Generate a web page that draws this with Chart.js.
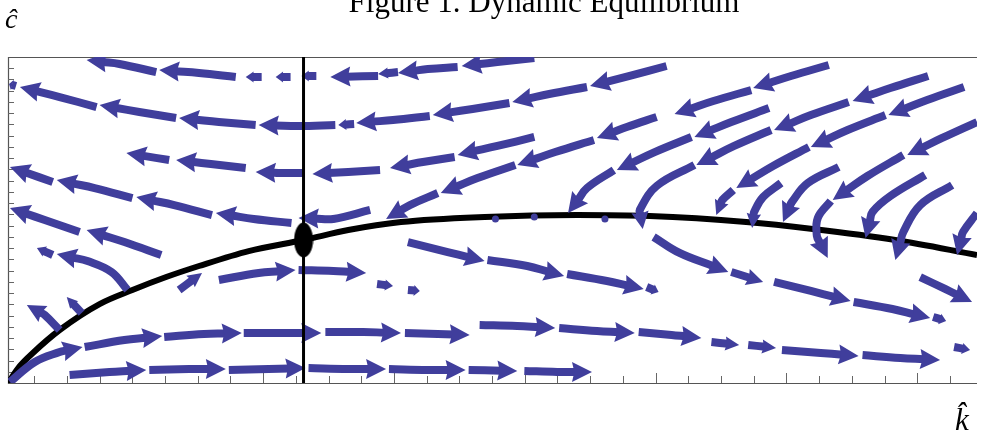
<!DOCTYPE html>
<html>
<head>
<meta charset="utf-8">
<script src="https://cdn.jsdelivr.net/npm/chart.js@4.4.0/dist/chart.umd.min.js"></script>
<style>
  html, body { margin: 0; padding: 0; background: #fff; }
  #wrap { width: 982px; height: 435px; }
</style>
</head>
<body>
<div id="wrap"><canvas id="phaseChart" width="982" height="435"></canvas></div>
<script>
// axis ranges (k-hat horizontally, c-hat vertically)
const kRange = [0.05, 7.457];
const cRange = [0, 2.898];

const kMajorTicks = [1, 2, 3, 4, 5, 6, 7];
const kMinorTicks = [0.25, 0.5, 0.75, 1.25, 1.5, 1.75, 2.25, 2.5, 2.75, 3.25, 3.5, 3.75,
  4.25, 4.5, 4.75, 5.25, 5.5, 5.75, 6.25, 6.5, 6.75, 7.25];
const cTicks = [0.1, 0.2, 0.3, 0.4, 0.5, 0.6, 0.7, 0.8, 0.9, 1.0, 1.1, 1.2, 1.3, 1.4,
  1.5, 1.6, 1.7, 1.8, 1.9, 2.0, 2.1, 2.2, 2.3, 2.4, 2.5, 2.6, 2.7, 2.8];

// c-dot = 0 locus
const curveK = [0.05, 0.141, 0.240, 0.445, 0.750, 1.001, 1.259, 1.510, 1.890, 2.309,
  2.651, 3.054, 3.693, 4.400, 4.955, 5.692, 6.202, 6.833, 7.457];
const curveC = [0, 0.151, 0.267, 0.471, 0.702, 0.827, 0.942, 1.040, 1.173, 1.271,
  1.360, 1.431, 1.476, 1.493, 1.484, 1.431, 1.369, 1.271, 1.138];

// steady state (k-dot = 0 line and equilibrium)
const kStar = 2.309;
const cStar = 1.271;

// stream segments: [k, c] from tail to arrow tip
const streams = [
  [[1.183,2.764],[0.902,2.836],[0.651,2.871]],
  [[1.791,2.720],[1.510,2.756],[1.206,2.782]],
  [[1.989,2.720],[1.867,2.720]],
  [[2.210,2.720],[2.096,2.720]],
  [[2.407,2.729],[2.293,2.729]],
  [[2.879,2.729],[2.514,2.720]],
  [[3.031,2.764],[2.879,2.747]],
  [[3.487,2.809],[3.259,2.791],[3.031,2.756]],
  [[4.073,2.889],[3.791,2.853],[3.518,2.818]],
  [[0.111,2.640],[0.058,2.658]],
  [[0.727,2.453],[0.445,2.542],[0.141,2.631]],
  [[1.335,2.356],[1.054,2.409],[0.750,2.471]],
  [[1.943,2.293],[1.662,2.320],[1.358,2.356]],
  [[2.552,2.293],[2.271,2.284],[1.966,2.293]],
  [[2.696,2.302],[2.575,2.293]],
  [[3.274,2.373],[2.993,2.338],[2.712,2.311]],
  [[3.883,2.489],[3.601,2.436],[3.297,2.382]],
  [[4.476,2.631],[4.187,2.569],[3.905,2.498]],
  [[5.084,2.818],[4.795,2.729],[4.499,2.640]],
  [[6.324,2.827],[6.035,2.729],[5.746,2.622]],
  [[1.282,1.982],[0.955,2.044]],
  [[1.867,1.911],[1.601,1.947],[1.335,1.982]],
  [[2.309,1.867],[2.119,1.867],[1.943,1.876]],
  [[2.894,1.893],[2.651,1.876],[2.377,1.858]],
  [[3.464,2.009],[3.221,1.964],[2.970,1.911]],
  [[4.073,2.187],[3.791,2.107],[3.487,2.027]],
  [[5.731,2.604],[5.442,2.507],[5.145,2.391]],
  [[7.084,2.729],[6.795,2.622],[6.506,2.507]],
  [[6.476,2.498],[6.187,2.382],[5.906,2.249]],
  [[5.867,2.444],[5.579,2.320],[5.297,2.187]],
  [[5.274,2.187],[4.993,2.053],[4.704,1.893]],
  [[5.008,2.364],[4.780,2.276],[4.552,2.178]],
  [[4.529,2.160],[4.233,2.053],[3.943,1.938]],
  [[3.928,1.938],[3.639,1.822],[3.358,1.689]],
  [[3.335,1.689],[3.122,1.582],[2.940,1.458]],
  [[7.358,2.631],[7.076,2.516],[6.780,2.382]],
  [[6.757,2.382],[6.468,2.249],[6.187,2.098]],
  [[5.883,2.249],[5.601,2.107],[5.312,1.938]],
  [[6.172,2.098],[5.898,1.929],[5.617,1.733]],
  [[7.457,2.320],[7.191,2.178],[6.924,2.027]],
  [[6.894,2.027],[6.620,1.840],[6.354,1.627]],
  [[4.681,1.893],[4.476,1.733],[4.331,1.511]],
  [[5.297,1.938],[5.008,1.751],[4.879,1.538],[4.902,1.369]],
  [[4.985,1.298],[5.183,1.156],[5.556,0.987]],
  [[5.594,1.716],[5.510,1.627],[5.464,1.493]],
  [[5.959,1.778],[5.822,1.653],[5.753,1.520],[5.738,1.378]],
  [[6.400,1.920],[6.164,1.778],[6.042,1.609],[5.974,1.431]],
  [[6.339,1.618],[6.240,1.467],[6.233,1.307],[6.316,1.111]],
  [[7.061,1.849],[6.795,1.662],[6.658,1.520],[6.605,1.289]],
  [[7.267,1.760],[7.023,1.582],[6.894,1.342],[6.833,1.093]],
  [[7.457,1.511],[7.350,1.342],[7.305,1.138]],
  [[3.107,1.253],[3.411,1.164],[3.693,1.084]],
  [[3.715,1.093],[4.019,1.040],[4.301,0.951]],
  [[4.324,0.969],[4.628,0.907],[4.909,0.836]],
  [[4.932,0.853],[5.023,0.809]],
  [[5.579,0.987],[5.822,0.898]],
  [[5.906,0.898],[6.187,0.818],[6.491,0.729]],
  [[6.514,0.720],[6.810,0.658],[7.099,0.578]],
  [[7.122,0.587],[7.221,0.551]],
  [[7.023,0.942],[7.213,0.836],[7.419,0.720]],
  [[1.358,0.827],[1.533,0.978]],
  [[1.662,0.916],[1.966,0.978],[2.248,1.004]],
  [[2.271,1.004],[2.537,0.996],[2.788,0.978]],
  [[2.871,0.880],[2.993,0.862]],
  [[3.107,0.827],[3.198,0.818]],
  [[0.392,1.787],[0.065,1.920]],
  [[1.001,1.644],[0.712,1.733],[0.423,1.804]],
  [[1.609,1.493],[1.320,1.582],[1.031,1.653]],
  [[2.217,1.422],[1.928,1.458],[1.639,1.511]],
  [[2.818,1.538],[2.537,1.458],[2.271,1.467]],
  [[0.597,1.342],[0.331,1.449],[0.065,1.556]],
  [[1.221,1.138],[0.940,1.253],[0.651,1.360]],
  [[0.392,1.138],[0.271,1.200]],
  [[0.963,0.827],[0.841,0.987],[0.658,1.084],[0.423,1.147]],
  [[0.445,0.471],[0.331,0.604],[0.194,0.693]],
  [[0.613,0.622],[0.499,0.764]],
  [[0.065,0.009],[0.255,0.187],[0.445,0.276],[0.620,0.320]],
  [[0.636,0.320],[0.940,0.382],[1.229,0.418]],
  [[1.244,0.409],[1.548,0.436],[1.837,0.444]],
  [[1.852,0.444],[2.156,0.444],[2.445,0.444]],
  [[2.476,0.453],[2.765,0.453],[3.054,0.444]],
  [[3.084,0.444],[3.335,0.436],[3.579,0.427]],
  [[3.655,0.516],[3.943,0.507],[4.233,0.489]],
  [[4.263,0.489],[4.552,0.462],[4.841,0.444]],
  [[4.871,0.453],[5.122,0.427],[5.350,0.400]],
  [[5.427,0.364],[5.639,0.338]],
  [[5.708,0.338],[5.921,0.311]],
  [[5.966,0.293],[6.263,0.267],[6.552,0.240]],
  [[6.582,0.249],[6.871,0.222],[7.175,0.204]],
  [[7.282,0.320],[7.404,0.293]],
  [[0.521,0.071],[0.826,0.098],[1.107,0.116]],
  [[1.130,0.116],[1.434,0.124],[1.715,0.124]],
  [[1.738,0.116],[2.042,0.124],[2.324,0.133]],
  [[2.347,0.133],[2.651,0.124],[2.940,0.124]],
  [[2.962,0.124],[3.259,0.116],[3.548,0.116]],
  [[3.571,0.116],[3.943,0.107]],
  [[3.997,0.107],[4.248,0.098],[4.514,0.098]]
];

// near-stationary stream stubs sitting on the curve
const restPoints = [[3.776,1.458],[4.073,1.476],[4.613,1.458]];

const titleText = 'Figure 1. Dynamic Equilibrium';
const yLabel = 'ĉ';
const xLabel = 'k̂';

const ARROW = '#403e9c';

// equilibrium marker: tall black ellipse
const dot = document.createElement('canvas');
dot.width = 20; dot.height = 36;
(function () {
  const g = dot.getContext('2d');
  g.fillStyle = '#000';
  g.beginPath();
  g.ellipse(10, 18, 9.5, 17.5, 0, 0, Math.PI * 2);
  g.fill();
})();

const datasets = [];
streams.forEach(s => {
  datasets.push({
    isStream: true,
    data: s.map(p => ({ x: p[0], y: p[1] })),
    borderColor: ARROW,
    borderWidth: 8,
    borderCapStyle: 'butt',
    pointRadius: 0,
    tension: 0.4,
    fill: false,
    order: 1
  });
});
datasets.push({
  data: restPoints.map(p => ({ x: p[0], y: p[1] })),
  showLine: false,
  pointRadius: 3.5,
  pointBorderWidth: 0,
  pointBackgroundColor: ARROW,
  order: 1
});
datasets.push({
  data: curveK.map((k, i) => ({ x: k, y: curveC[i] })),
  borderColor: '#000',
  borderWidth: 6,
  pointRadius: 0,
  cubicInterpolationMode: 'monotone',
  order: 5
});
datasets.push({
  data: [{ x: kStar, y: cRange[0] }, { x: kStar, y: cRange[1] }],
  borderColor: '#000',
  borderWidth: 3,
  pointRadius: 0,
  order: 0
});
datasets.push({
  data: [{ x: kStar, y: cStar }],
  showLine: false,
  pointStyle: dot,
  order: -1
});

const phasePlugin = {
  id: 'phase',
  afterDatasetsUpdate(chart) {
    chart.data.datasets.forEach((ds, i) => {
      if (!ds.isStream) return;
      const meta = chart.getDatasetMeta(i);
      const pts = meta.data;
      const n = pts.length;
      let len = 0;
      for (let j = 1; j < n; j++) len += Math.hypot(pts[j].x - pts[j - 1].x, pts[j].y - pts[j - 1].y);
      const tip = pts[n - 1], prev = pts[n - 2];
      const dx = tip.x - prev.x, dy = tip.y - prev.y;
      const d = Math.hypot(dx, dy) || 1;
      const ux = dx / d, uy = dy / d;
      const L = Math.min(20, len * 0.5, d * 0.9);
      meta._head = { x: tip.x, y: tip.y, ux, uy, L, W: Math.max(5.5, 10 * L / 20) };
      tip.x -= ux * L * 0.8;
      tip.y -= uy * L * 0.8;
    });
  },
  beforeDatasetsDraw(chart) {
    const { ctx, chartArea: a, scales } = chart;
    ctx.save();
    ctx.strokeStyle = '#555';
    ctx.lineWidth = 1.2;
    ctx.beginPath();
    ctx.moveTo(a.right, a.top + 0.5);
    ctx.lineTo(a.left + 0.5, a.top + 0.5);
    ctx.lineTo(a.left + 0.5, a.bottom + 0.5);
    ctx.lineTo(a.right, a.bottom + 0.5);
    ctx.stroke();
    ctx.strokeStyle = '#666';
    ctx.lineWidth = 1;
    ctx.beginPath();
    kMajorTicks.forEach(k => {
      const x = Math.round(scales.x.getPixelForValue(k)) + 0.5;
      ctx.moveTo(x, a.bottom); ctx.lineTo(x, a.bottom - 10);
    });
    kMinorTicks.forEach(k => {
      const x = Math.round(scales.x.getPixelForValue(k)) + 0.5;
      ctx.moveTo(x, a.bottom); ctx.lineTo(x, a.bottom - 7);
    });
    cTicks.forEach(c => {
      const y = Math.round(scales.y.getPixelForValue(c)) + 0.5;
      ctx.moveTo(a.left, y); ctx.lineTo(a.left + 6, y);
    });
    ctx.stroke();
    ctx.restore();
  },
  afterDatasetDraw(chart, args) {
    const ds = chart.data.datasets[args.index];
    if (!ds.isStream) return;
    const h = args.meta._head;
    const a = chart.chartArea;
    const ctx = chart.ctx;
    const bx = h.x - h.ux * h.L, by = h.y - h.uy * h.L;
    ctx.save();
    ctx.beginPath();
    ctx.rect(a.left, a.top, a.right - a.left, a.bottom - a.top);
    ctx.clip();
    ctx.fillStyle = ARROW;
    ctx.beginPath();
    ctx.moveTo(h.x, h.y);
    ctx.lineTo(bx - h.uy * h.W, by + h.ux * h.W);
    ctx.lineTo(h.x - h.ux * h.L * 0.88, h.y - h.uy * h.L * 0.88);
    ctx.lineTo(bx + h.uy * h.W, by - h.ux * h.W);
    ctx.closePath();
    ctx.fill();
    ctx.restore();
  },
  afterDraw(chart) {
    const ctx = chart.ctx;
    ctx.save();
    ctx.fillStyle = '#000';
    ctx.textAlign = 'center';
    ctx.textBaseline = 'alphabetic';
    ctx.font = '31px "Liberation Serif", serif';
    ctx.fillText(titleText, 544, 12);
    ctx.textAlign = 'left';
    ctx.font = 'italic 28px "Liberation Serif", serif';
    ctx.fillText(yLabel, 5, 28);
    ctx.font = 'italic 31px "Liberation Serif", serif';
    ctx.fillText(xLabel, 955, 430);
    ctx.restore();
  }
};

new Chart(document.getElementById('phaseChart'), {
  type: 'line',
  data: { datasets: datasets },
  options: {
    responsive: false,
    animation: false,
    devicePixelRatio: 1,
    events: [],
    layout: { padding: { left: 8, top: 57, right: 0, bottom: 52 } },
    plugins: { legend: { display: false }, tooltip: { enabled: false }, title: { display: false } },
    scales: {
      x: { type: 'linear', display: false, min: kRange[0], max: kRange[1] },
      y: { type: 'linear', display: false, min: cRange[0], max: cRange[1] }
    }
  },
  plugins: [phasePlugin]
});
</script>
</body>
</html>
